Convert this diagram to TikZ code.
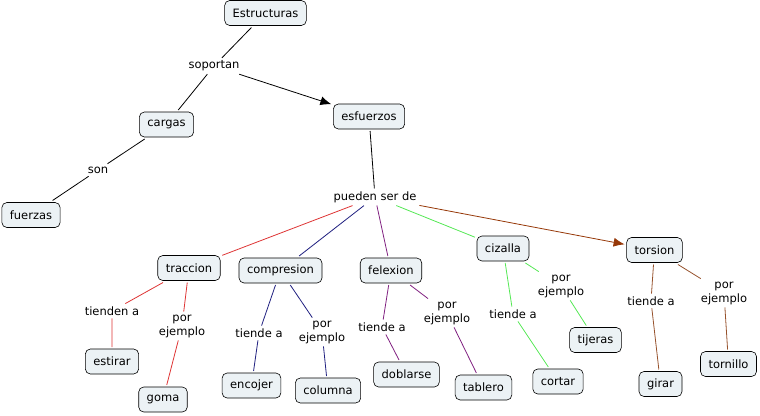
\documentclass[tikz,border=0pt]{standalone}
\usepackage{fontspec}
\setmainfont{DejaVu Sans}
\usetikzlibrary{arrows.meta}

\definecolor{boxfill}{RGB}{236,242,245}
\definecolor{cred}{RGB}{222,52,52}
\definecolor{cblue}{RGB}{32,32,128}
\definecolor{cpurple}{RGB}{128,32,128}
\definecolor{cgreen}{RGB}{84,232,84}
\definecolor{cbrown}{RGB}{150,82,44}
\definecolor{carrow}{RGB}{150,56,8}

\tikzset{   boxnode/.style={draw=black,rounded corners=5pt,fill=boxfill,minimum height=25pt,inner xsep=8pt,outer sep=2pt,line width=0.6pt},
            labnode/.style={inner sep=2pt,outer sep=1pt,align=center,fill=white},
}

\begin{document}
\begin{tikzpicture}[x=1pt,y=-1pt,line width=0.8pt,font=\fontsize{11.5}{14}\selectfont]
    \useasboundingbox (0,0) rectangle (760,415);

    \node[boxnode] (estructuras) at (265.5,13) {Estructuras};  % top concepts
    \node[labnode] (soportan) at (214,66) {soportan};
    \node[boxnode] (cargas) at (166.5,124.5) {cargas};
    \node[boxnode] (esfuerzos) at (369,116.5) {esfuerzos};
    \node[labnode] (son) at (98,170) {son};
    \node[boxnode] (fuerzas) at (31,215) {fuerzas};
    \node[labnode] (pueden) at (375,197) {pueden ser de};

    \node[boxnode] (traccion) at (189,268) {traccion};  % kinds of esfuerzos
    \node[boxnode] (compresion) at (280.5,270.5) {compresion};
    \node[boxnode] (felexion) at (391,270.5) {felexion};
    \node[boxnode] (cizalla) at (503,248.5) {cizalla};
    \node[boxnode] (torsion) at (654.5,250) {torsion};

    \node[labnode] (tiendenA) at (112,311) {tienden a};  % linking words
    \node[labnode] (ejemploA) at (182,326) {por\\ejemplo};
    \node[labnode] (tiendeB) at (259,333) {tiende a};
    \node[labnode] (ejemploB) at (322,332) {por\\ejemplo};
    \node[labnode] (tiendeC) at (382,327) {tiende a};
    \node[labnode] (ejemploC) at (447,313) {por\\ejemplo};
    \node[labnode] (tiendeD) at (513,314) {tiende a};
    \node[labnode] (ejemploD) at (561,286) {por\\ejemplo};
    \node[labnode] (tiendeE) at (651,301) {tiende a};
    \node[labnode] (ejemploE) at (724,293) {por\\ejemplo};

    \node[boxnode] (estirar) at (112,361.5) {estirar};  % examples
    \node[boxnode] (goma) at (163,399.5) {goma};
    \node[boxnode] (encojer) at (251.5,385.5) {encojer};
    \node[boxnode] (columna) at (328,390.5) {columna};
    \node[boxnode] (doblarse) at (406.5,374.5) {doblarse};
    \node[boxnode] (tablero) at (483.5,387.5) {tablero};
    \node[boxnode] (tijeras) at (595.5,340) {tijeras};
    \node[boxnode] (cortar) at (558,381.5) {cortar};
    \node[boxnode] (girar) at (660.5,384) {girar};
    \node[boxnode] (tornillo) at (728.5,364) {tornillo};

    \draw (estructuras) -- (soportan) -- (cargas);  % black links
    \draw[-{Latex[length=11pt,width=9pt]}] (soportan) -- (esfuerzos);
    \draw (cargas) -- (son) -- (fuerzas);
    \draw (esfuerzos) -- (pueden);

    \draw[cred] (pueden) -- (traccion);  % coloured links
    \draw[cblue] (pueden) -- (compresion);
    \draw[cpurple] (pueden) -- (felexion);
    \draw[cgreen] (pueden) -- (cizalla);
    \draw[carrow,-{Latex[length=11pt,width=9pt]}] (pueden) -- (torsion);

    \draw[cred] (traccion) -- (tiendenA) -- (estirar);
    \draw[cred] (traccion) -- (ejemploA) -- (goma);
    \draw[cblue] (compresion) -- (tiendeB) -- (encojer);
    \draw[cblue] (compresion) -- (ejemploB) -- (columna);
    \draw[cpurple] (felexion) -- (tiendeC) -- (doblarse);
    \draw[cpurple] (felexion) -- (ejemploC) -- (tablero);
    \draw[cgreen] (cizalla) -- (tiendeD) -- (cortar);
    \draw[cgreen] (cizalla) -- (ejemploD) -- (tijeras);
    \draw[cbrown] (torsion) -- (tiendeE) -- (girar);
    \draw[cbrown] (torsion) -- (ejemploE) -- (tornillo);
\end{tikzpicture}
\end{document}
